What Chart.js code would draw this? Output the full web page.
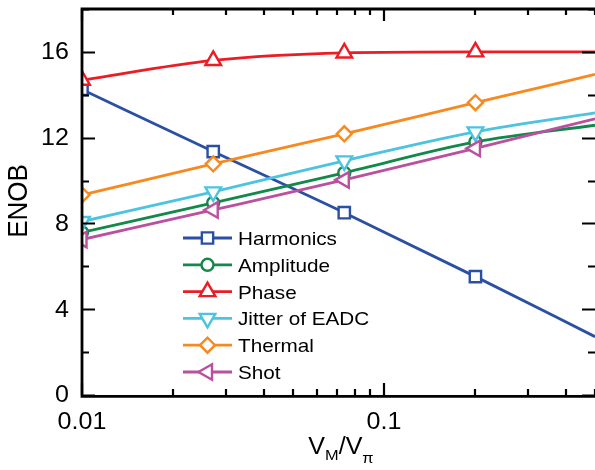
<!DOCTYPE html>
<html>
<head>
<meta charset="utf-8">
<script src="https://cdn.jsdelivr.net/npm/chart.js@4/dist/chart.umd.min.js"></script>
<style>
  html, body { margin: 0; padding: 0; background: #fff; }
  #wrap { width: 595px; height: 470px; }
</style>
</head>
<body>
<div id="wrap"><canvas id="enobChart" width="595" height="470"></canvas></div>
<script>
// VM/Vpi values where the markers sit (last one is the right edge, no marker)
const xValues = [0.01, 0.0272, 0.0739, 0.2009, 0.5];

const harmonics = [14.25, 11.35, 8.5, 5.52, 2.72];
const amplitude = [7.58, 8.96, 10.36, 11.8, 12.58];
const phase = [14.68, 15.6, 15.95, 16.0, 16.0];
const jitter = [8.09, 9.47, 10.92, 12.27, 13.16];
const thermal = [9.33, 10.78, 12.18, 13.63, 14.95];
const shot = [7.25, 8.63, 10.03, 11.5, 12.88];

const seriesNames = ['Harmonics', 'Amplitude', 'Phase', 'Jitter of EADC', 'Thermal', 'Shot'];

const yMajorTicks = [0, 4, 8, 12, 16];
const yMinorTicks = [2, 6, 10, 14, 18];
const xMajorTicks = [0.01, 0.1];
const xMajorLabels = ['0.01', '0.1'];
const xMinorTicks = [0.02, 0.03, 0.04, 0.05, 0.06, 0.07, 0.08, 0.09, 0.2, 0.3, 0.4, 0.5];

const SX = 1.09; // text in the figure is a bit wider than tall
const FONT = 'Arial, "Liberation Sans", sans-serif';

const styles = [
  { color: '#2b4fa3', pointStyle: 'rect', rotation: 0, radius: 8 },
  { color: '#12894a', pointStyle: 'circle', rotation: 0, radius: 6 },
  { color: '#ec1c24', pointStyle: 'triangle', rotation: 0, radius: 9 },
  { color: '#4cc3df', pointStyle: 'triangle', rotation: 180, radius: 9 },
  { color: '#f7891e', pointStyle: 'rectRot', rotation: 0, radius: 7.5 },
  { color: '#bb4fa0', pointStyle: 'triangle', rotation: 270, radius: 9 }
];

const allSeries = [harmonics, amplitude, phase, jitter, thermal, shot];

function makeDataset(i) {
  const s = styles[i];
  return {
    label: seriesNames[i],
    data: xValues.map((x, k) => ({ x, y: allSeries[i][k] })),
    borderColor: s.color,
    backgroundColor: '#ffffff',
    borderWidth: 2.8,
    pointStyle: s.pointStyle,
    pointRotation: s.rotation,
    pointRadius: ctx => (ctx.dataIndex < 4 ? s.radius : 0),
    pointBorderWidth: 2.4,
    pointBackgroundColor: '#ffffff',
    pointBorderColor: s.color,
    cubicInterpolationMode: 'monotone',
    clip: 0,
    order: 6 - i
  };
}

function textX(ctx, text, x, y, align) {
  ctx.save();
  ctx.translate(x, y);
  ctx.scale(SX, 1);
  ctx.textAlign = align;
  ctx.fillText(text, 0, 0);
  ctx.restore();
}

const frame = {
  id: 'frame',
  afterDraw(chart) {
    const ctx = chart.ctx;
    const { left, right, top, bottom } = chart.chartArea;
    const xs = chart.scales.x;
    const ys = chart.scales.y;
    ctx.save();
    ctx.strokeStyle = '#000';
    ctx.fillStyle = '#000';
    ctx.lineWidth = 2.8;

    // frame
    ctx.beginPath();
    ctx.moveTo(left, top);
    ctx.lineTo(right, top);
    ctx.moveTo(left, top - 1.4);
    ctx.lineTo(left, bottom + 1.4);
    ctx.lineTo(right, bottom + 1.4);
    ctx.stroke();

    // ticks (inward, mirrored)
    ctx.lineWidth = 2.2;
    ctx.beginPath();
    const yTick = (v, len) => {
      const p = Math.round(ys.getPixelForValue(v)) + 0.5;
      ctx.moveTo(left, p); ctx.lineTo(left + len, p);
      ctx.moveTo(right, p); ctx.lineTo(right - len, p);
    };
    const xTick = (v, len) => {
      const p = Math.round(xs.getPixelForValue(v));
      ctx.moveTo(p, bottom); ctx.lineTo(p, bottom - len);
      ctx.moveTo(p, top); ctx.lineTo(p, top + len);
    };
    yMajorTicks.forEach(v => yTick(v, 13));
    yMinorTicks.forEach(v => yTick(v, 7));
    xMajorTicks.forEach(v => xTick(v, 12));
    xMinorTicks.forEach(v => xTick(v, 6));
    ctx.stroke();

    // tick labels
    ctx.font = '23px ' + FONT;
    ctx.textBaseline = 'middle';
    yMajorTicks.forEach(v => textX(ctx, String(v), 69, ys.getPixelForValue(v) + 1, 'right'));
    ctx.textBaseline = 'alphabetic';
    xMajorTicks.forEach((v, i) => textX(ctx, xMajorLabels[i], xs.getPixelForValue(v), 429, 'center'));

    // y title
    ctx.save();
    ctx.translate(19, 201);
    ctx.rotate(-Math.PI / 2);
    ctx.scale(1, SX);
    ctx.font = '26px ' + FONT;
    ctx.textAlign = 'center';
    ctx.textBaseline = 'middle';
    ctx.fillText('ENOB', 0, 0);
    ctx.restore();

    // x title: VM/Vpi with subscripts
    const big = '23px ' + FONT, small = '15px ' + FONT;
    const parts = [['V', big, 0], ['M', small, 6], ['/', big, 0], ['V', big, 0], ['\u03c0', small, 9]];
    let total = 0;
    parts.forEach(p => { ctx.font = p[1]; total += ctx.measureText(p[0]).width * SX; });
    let x = 341 - total / 2;
    parts.forEach(p => {
      ctx.font = p[1];
      textX(ctx, p[0], x, 454 + p[2], 'left');
      x += ctx.measureText(p[0]).width * SX;
    });

    // legend
    const lx0 = 183, lx1 = 232, ly0 = 238, dy = 26.8;
    seriesNames.forEach((name, i) => {
      const s = styles[i];
      const y = ly0 + i * dy;
      ctx.strokeStyle = s.color;
      ctx.lineWidth = 2.8;
      ctx.beginPath();
      ctx.moveTo(lx0, y); ctx.lineTo(lx1, y);
      ctx.stroke();
      ctx.fillStyle = '#fff';
      ctx.lineWidth = 2.4;
      Chart.helpers.drawPoint(ctx, { pointStyle: s.pointStyle, rotation: s.rotation, radius: s.radius, borderWidth: 2.4 }, (lx0 + lx1) / 2, y);
      ctx.fillStyle = '#000';
      ctx.font = '19px ' + FONT;
      ctx.textBaseline = 'alphabetic';
      textX(ctx, name, 238, y + 7, 'left');
    });
    ctx.restore();
  }
};

new Chart(document.getElementById('enobChart'), {
  type: 'line',
  data: { datasets: seriesNames.map((n, i) => makeDataset(i)) },
  options: {
    responsive: false,
    animation: false,
    devicePixelRatio: 1,
    layout: { autoPadding: false, padding: { left: 82, right: 0, top: 9, bottom: 75 } },
    plugins: { legend: { display: false }, tooltip: { enabled: false } },
    scales: {
      x: { type: 'logarithmic', min: 0.01, max: 0.5, display: false },
      y: { type: 'linear', min: 0, max: 18, display: false }
    }
  },
  plugins: [frame]
});
</script>
</body>
</html>
